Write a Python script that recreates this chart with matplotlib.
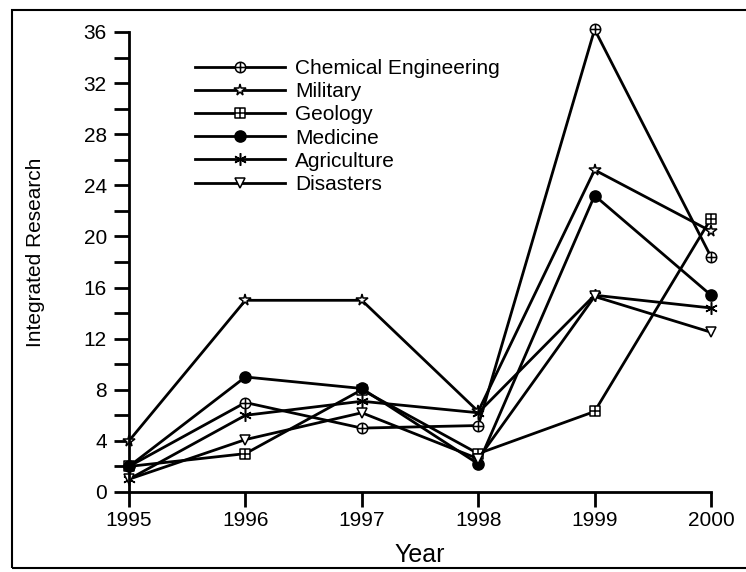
import matplotlib
matplotlib.use("Agg")
import matplotlib.pyplot as plt
from matplotlib.path import Path
from matplotlib.patches import Rectangle
from matplotlib.ticker import MultipleLocator

years = [1995, 1996, 1997, 1998, 1999, 2000]
chemical = [2, 7, 5, 5.2, 36.2, 18.4]
military = [4, 15, 15, 6.3, 25.2, 20.4]
geology = [2, 3, 8, 3, 6.3, 21.4]
medicine = [2, 9, 8.1, 2.2, 23.2, 15.4]
agriculture = [1, 6, 7.1, 6.2, 15.4, 14.4]
disasters = [1, 4.1, 6.2, 2.6, 15.3, 12.5]
labels = ["Chemical Engineering", "Military", "Geology", "Medicine",
          "Agriculture", "Disasters"]

plt.rcParams["font.family"] = ["Liberation Sans", "DejaVu Sans"]


def crossed(shape):
    # outline (circle or square) with a plus inside
    if shape == "circle":
        outline = Path.unit_circle()
    else:
        outline = Path.unit_rectangle()
        outline = Path(outline.vertices * 2 - 1, outline.codes)
    cross = Path([(-1, 0), (1, 0), (0, -1), (0, 1)],
                 [Path.MOVETO, Path.LINETO, Path.MOVETO, Path.LINETO])
    return Path.make_compound_path(outline, cross)


styles = [
    dict(marker=crossed("circle"), ms=7.5, mfc="white"),
    dict(marker="*", ms=8.5, mfc="white"),
    dict(marker=crossed("square"), ms=7.5, mfc="white"),
    dict(marker="o", ms=8, mfc="black"),
    dict(marker=(6, 2, 0), ms=9, mfc="black"),
    dict(marker="v", ms=7.5, mfc="white"),
]
series = [chemical, military, geology, medicine, agriculture, disasters]

fig = plt.figure(figsize=(7.46, 5.72), dpi=100)
ax = fig.add_axes([0.1729, 0.1399, 0.7802, 0.8042])

for vals, lab, st in zip(series, labels, styles):
    ax.plot(years, vals, color="black", lw=2, mec="black", mew=1.1,
            label=lab, clip_on=False, **st)

ax.set_xlim(1995, 2000)
ax.set_ylim(0, 36)
ax.set_xticks(years)
ax.yaxis.set_major_locator(MultipleLocator(4))
ax.yaxis.set_minor_locator(MultipleLocator(2))
ax.tick_params(axis="both", which="both", direction="out", width=2,
               length=11, labelsize=15)
ax.tick_params(axis="y", pad=5)
ax.tick_params(axis="x", pad=3)
for side in ("top", "right"):
    ax.spines[side].set_visible(False)
for side in ("left", "bottom"):
    ax.spines[side].set_linewidth(2)

ax.set_xlabel("Year", fontsize=18, labelpad=9)
ax.set_ylabel("Integrated Research", fontsize=15)
ax.yaxis.set_label_coords(-0.144, 0.52)

ax.legend(loc="upper left", bbox_to_anchor=(195 / 746, 1 - 59 / 572),
          bbox_transform=fig.transFigure, frameon=False, fontsize=15,
          handlelength=4.3, handletextpad=0.5, labelspacing=0.2,
          borderpad=0, borderaxespad=0)

# outer frame of the figure (right edge falls outside the image)
fig.add_artist(Rectangle((12 / 746, 1 - 568 / 572), 1.2, 558 / 572,
                         transform=fig.transFigure, fill=False,
                         lw=1.5, ec="black"))

fig.savefig("out.png", dpi=100)
